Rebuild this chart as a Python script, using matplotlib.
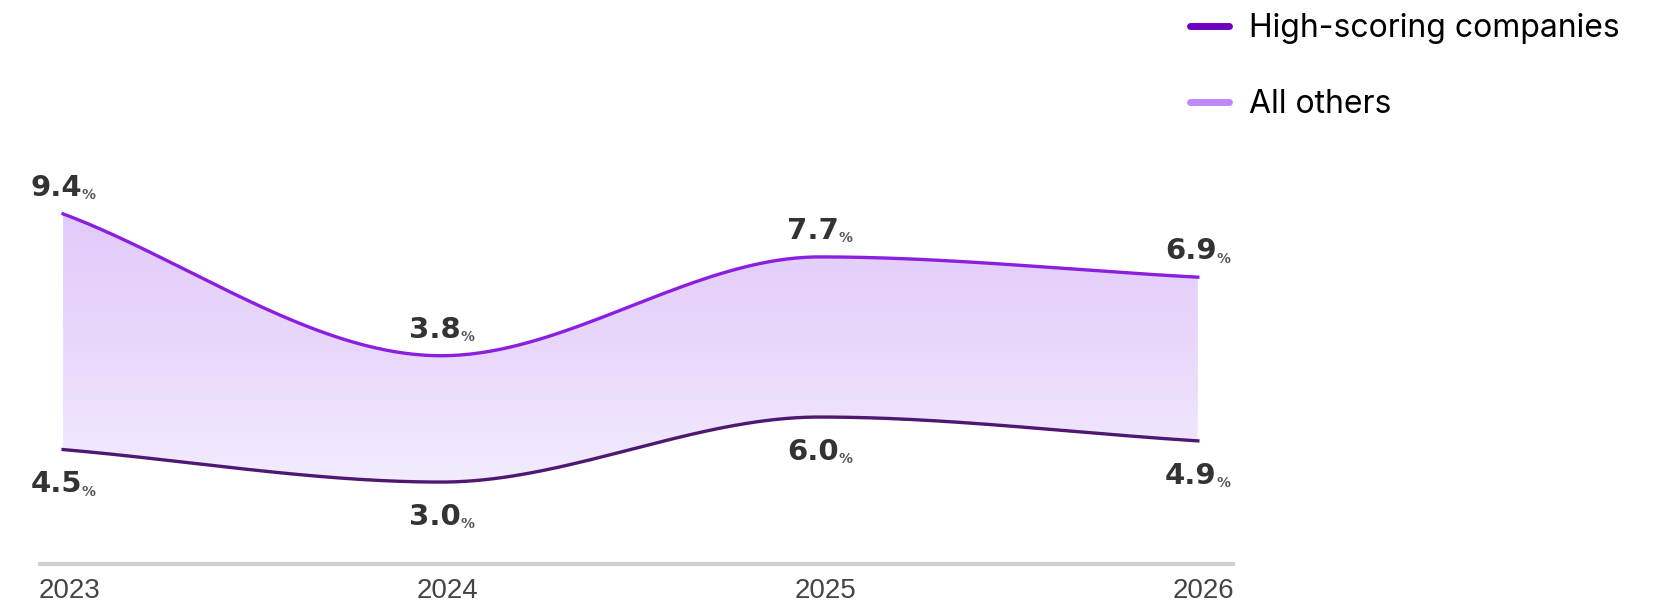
import numpy as np
import matplotlib
matplotlib.use("Agg")
import matplotlib.pyplot as plt
import matplotlib.transforms as mtransforms
from matplotlib.colors import LinearSegmentedColormap
from matplotlib.lines import Line2D
from matplotlib.patches import Polygon

# data
years = ["2023", "2024", "2025", "2026"]
high_scoring = [9.4, 3.8, 7.7, 6.9]
all_others = [4.5, 3.0, 6.0, 4.9]
series_names = ["High-scoring companies", "All others"]

# colours
upper_col = "#8a1fe0"
lower_col = "#4e1872"
legend_cols = ["#7000c0", "#bf88ff"]
label_col = "#333333"


def monotone_curve(x, y, n=80):
    # monotone cubic (Fritsch-Carlson) for drawing the smooth line
    x = np.asarray(x, float)
    y = np.asarray(y, float)
    h = np.diff(x)
    d = np.diff(y) / h
    m = np.zeros(len(x))
    m[0] = d[0]
    m[-1] = d[-1]
    for i in range(1, len(x) - 1):
        if d[i - 1] * d[i] <= 0:
            m[i] = 0
        else:
            m[i] = 3 * (h[i - 1] + h[i]) / ((2 * h[i] + h[i - 1]) / d[i - 1] + (h[i] + 2 * h[i - 1]) / d[i])
    xs, ys = [], []
    for i in range(len(x) - 1):
        t = np.linspace(0, 1, n)
        h00 = 2 * t**3 - 3 * t**2 + 1
        h10 = t**3 - 2 * t**2 + t
        h01 = -2 * t**3 + 3 * t**2
        h11 = t**3 - t**2
        xs.append(x[i] + t * h[i])
        ys.append(h00 * y[i] + h10 * h[i] * m[i] + h01 * y[i + 1] + h11 * h[i] * m[i + 1])
    return np.concatenate(xs), np.concatenate(ys)


W, H = 1662, 605
fig = plt.figure(figsize=(W / 100, H / 100), dpi=100)
fig.patch.set_facecolor("white")

# axes placed in pixels: baseline at y=564, x from 40 to 1233
ax = fig.add_axes([40 / W, (H - 564) / H, (1233 - 40) / W, 564 / H])
ax2 = ax.twinx()  # the upper series sits on its own (hidden) scale

x = np.arange(len(years))
ax.set_xlim(-0.061, 3.093)
ax.set_ylim(-0.78, 25.24)
ax2.set_xlim(-0.061, 3.093)
ax2.set_ylim(-4.42, 17.84)

xs, lo = monotone_curve(x, all_others)
_, hi = monotone_curve(x, high_scoring)

# lower curve expressed in the upper axis units, for the band
lo_in_ax2 = ax2.transData.inverted().transform(ax.transData.transform(np.column_stack([xs, lo])))[:, 1]

# gradient band between the lines
band = Polygon(np.column_stack([np.concatenate([xs, xs[::-1]]),
                                np.concatenate([hi, lo_in_ax2[::-1]])]),
               closed=True, facecolor="none", edgecolor="none", transform=ax2.transData)
ax2.add_patch(band)
cmap = LinearSegmentedColormap.from_list("band", ["#f3edfe", "#e9d8fb", "#e2cafa"])
grad = np.linspace(0, 1, 256).reshape(-1, 1)
img = ax2.imshow(grad, extent=[x[0], x[-1], -1.5, 9.4], origin="lower", aspect="auto",
                 cmap=cmap, zorder=1, interpolation="bilinear")
img.set_clip_path(band)

# both lines drawn on top of the band
ax2.plot(xs, lo_in_ax2, color=lower_col, lw=2.4, zorder=3)
ax2.plot(xs, hi, color=upper_col, lw=2.4, zorder=3)

ax2.set_xlim(-0.061, 3.093)
ax2.set_ylim(-4.42, 17.84)


# value labels
def value_label(axis, xi, v, dy, va):
    t = axis.annotate(f"{v:.1f}", xy=(xi, v), xytext=(-5, dy), textcoords="offset points",
                      ha="center", va=va, fontsize=21, fontweight="bold",
                      color=label_col, family="DejaVu Sans", zorder=5)
    axis.annotate("%", xy=(1, 0), xycoords=t, xytext=(0, -0.3), textcoords="offset points",
                  ha="left", va="bottom", fontsize=10, fontweight="bold",
                  color="#555555", family="DejaVu Sans", zorder=5)

for i, v in enumerate(high_scoring):
    value_label(ax2, x[i], v, 13, "baseline")
for i, v in enumerate(all_others):
    value_label(ax, x[i], v, -15, "top")

# axis styling
ax.set_xticks(x)
ax.set_xticklabels(years, fontsize=20, color="#444444", family="Liberation Sans")
ax.tick_params(axis="x", length=0, pad=10)
shift = mtransforms.ScaledTranslation(6 / 100, 0, fig.dpi_scale_trans)
for lab in ax.get_xticklabels():
    lab.set_transform(lab.get_transform() + shift)
ax.set_yticks([])
ax2.set_yticks([])
for s in ["top", "left", "right"]:
    ax.spines[s].set_visible(False)
    ax2.spines[s].set_visible(False)
ax.spines["bottom"].set_color("#d0d0d0")
ax.spines["bottom"].set_linewidth(3)
ax2.spines["bottom"].set_visible(False)
ax.patch.set_visible(False)
ax2.patch.set_visible(False)

# legend
handles = [Line2D([], [], color=c, lw=5, solid_capstyle="round") for c in legend_cols]
fig.legend(handles, series_names, loc="upper left", bbox_to_anchor=(1190 / W, 1 - 13 / H),
           frameon=False, prop={"family": "Inter", "size": 23}, handlelength=1.22,
           handletextpad=0.62, labelspacing=1.42, borderpad=0, borderaxespad=0)

fig.savefig("out.png", dpi=100, facecolor="white")
